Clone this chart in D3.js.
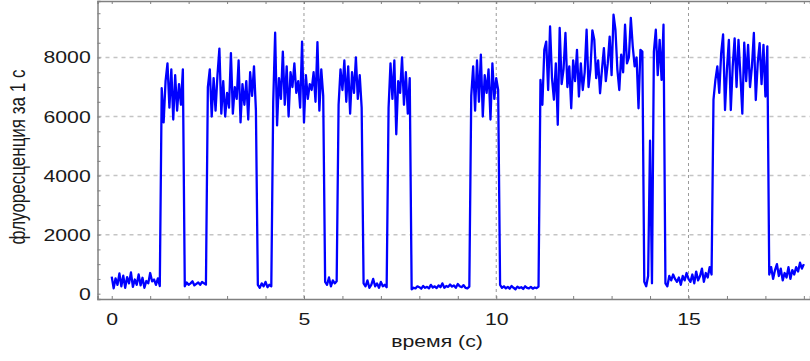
<!DOCTYPE html>
<html>
<head>
<meta charset="utf-8">
<script src="https://cdn.jsdelivr.net/npm/d3@7"></script>
<style>
  html, body { margin: 0; padding: 0; background: #fff; }
  svg { display: block; font-family: "Liberation Sans", Arial, sans-serif; }
</style>
</head>
<body>
<svg id="chart" width="810" height="361"></svg>
<script>
// Photon count trace of a single emitter, binned at 50 ms, expressed per second.
const startTime = 0;      // s
const binWidth = 0.05;    // s
const counts = [
  // 0.00 – 1.25 s
  580, 180, 520, 300, 690, 250, 610, 200, 560, 350, 720, 230, 480, 300, 650, 280, 540, 200, 430, 350,
  700, 420, 480, 300, 520, 260,
  // 1.30 – 1.85 s
  6960, 5800, 7200, 7800, 6300, 7600, 5900, 7400, 6200, 7100, 6400, 7600,
  // 1.90 – 2.45 s
  250, 380, 300, 350, 420, 280, 330, 380, 300, 400, 350, 310,
  // 2.50 – 3.75 s
  7000, 7600, 6000, 7300, 6200, 7400, 8300, 6100, 7200, 6000, 6800, 6300, 8150, 6100, 7000, 6600,
  7900, 5800, 7100, 6400, 7200, 5900, 7500, 6700, 7700, 6200,
  // 3.80 – 4.15 s
  300, 200, 350, 250, 400, 220, 300, 250,
  // 4.20 – 5.50 s
  6500, 8840, 5700, 7300, 6600, 8200, 6400, 7700, 6000, 7500, 7000, 7800, 6800, 7200, 6300, 8540,
  5800, 7400, 6600, 7100, 6900, 7500, 6500, 8520, 6200, 7600, 6700,
  // 5.55 – 5.85 s
  400, 300, 550, 250, 450, 350, 420,
  // 5.90 – 6.50 s
  6400, 7600, 6900, 7900, 6500, 7700, 6100, 7500, 6800, 8000, 6600, 7400, 6300,
  // 6.55 – 7.15 s
  350, 250, 450, 200, 300, 500, 250, 350, 200, 400, 250, 300, 220,
  // 7.20 – 7.75 s
  6300, 7800, 6600, 7900, 5400, 7200, 6800, 8000, 6400, 7500, 6100, 7300,
  // 7.80 – 9.30 s
  150, 200, 180, 250, 220, 170, 260, 200, 230, 180, 300, 210, 250, 190, 280, 220,
  350, 200, 260, 230, 310, 240, 280, 200, 330, 250, 220, 290, 200, 180, 240,
  // 9.35 – 10.05 s
  6700, 7700, 6200, 7900, 6500, 8100, 6000, 7400, 6800, 7600, 5900, 7800, 6600, 7300, 6900,
  // 10.10 – 11.10 s
  300, 200, 250, 180, 230, 170, 260, 200, 150, 240, 190, 220, 160, 250, 200, 180, 230, 170, 210, 190, 240,
  // 11.15 – 13.80 s
  7240, 6400, 8260, 8540, 6900, 9050, 7300, 6570, 7800, 5720, 9000, 7100, 7600, 8830, 7000, 7700,
  6280, 7900, 7200, 8260, 6680, 7800, 6900, 7500, 8940, 7000, 7600, 8920, 8600, 7300, 7900, 6790,
  7600, 8320, 7200, 7800, 8710, 7400, 9450, 8940, 7600, 6900, 8100, 7500, 9110, 7800, 8000, 9340,
  8380, 7700, 8000, 6280, 8260, 8200,
  // 13.85 – 14.05 s
  400, 250, 600, 5180, 350,
  // 14.10 – 14.35 s
  8200, 8940, 7400, 8600, 7240, 9110,
  // 14.40 – 15.60 s
  350, 250, 600, 450, 650, 500, 400, 550, 300, 600, 450, 700, 500, 400, 650, 350,
  750, 450, 600, 850, 400, 700, 550, 900, 650,
  // 15.65 – 17.05 s
  6570, 7240, 7700, 6800, 8150, 8780, 6220, 7600, 8600, 6220, 7700, 8650, 7000, 8600, 7400, 6100,
  8500, 7200, 8430, 7000, 7700, 8830, 6560, 7800, 8490, 7100, 8430, 6680, 8380,
  // 17.10 – 18.00 s
  650, 900, 500, 800, 1000, 600, 850, 450, 700, 550, 900, 500, 800, 650, 900, 750, 1050, 850, 1000
];

const xMajorTicks = [0, 5, 10, 15];
const xMinorTicks = [0, 1, 2, 3, 4, 5, 6, 7, 8, 9, 10, 11, 12, 13, 14, 15, 16, 17, 18];
const yMajorTicks = [0, 2000, 4000, 6000, 8000];
const yMinorTicks = [0, 500, 1000, 1500, 2000, 2500, 3000, 3500, 4000, 4500, 5000, 5500,
                     6000, 6500, 7000, 7500, 8000, 8500, 9000, 9500];
const xTitle = "время (с)";
const yTitle = "флуоресценция за 1 с";

const points = counts.map((v, i) => ({ t: startTime + i * binWidth, v }));

const svg = d3.select("#chart");
const frame = { left: 97.5, right: 810, top: 1, bottom: 299 };

const x = d3.scaleLinear().domain([-0.37, 18.16]).range([frame.left, frame.right]);
const y = d3.scaleLinear().domain([-180, 9914]).range([frame.bottom, frame.top]);

const axisColor = "#808080";
const textColor = "#1a1a1a";
const fontSize = "17px";
const textStretch = "scale(1.25,1)";   // wide lettering

// Grid lines
const grid = svg.append("g");
grid.selectAll("line.hgrid").data(yMajorTicks.filter(d => d > 0)).join("line")
  .attr("class", "hgrid")
  .attr("x1", frame.left).attr("x2", frame.right)
  .attr("y1", d => y(d)).attr("y2", d => y(d))
  .attr("stroke", "#c4c4c4").attr("stroke-width", 1.5)
  .attr("stroke-dasharray", "4,4");
grid.selectAll("line.vgrid").data(xMajorTicks.filter(d => d > 0)).join("line")
  .attr("class", "vgrid")
  .attr("x1", d => x(d)).attr("x2", d => x(d))
  .attr("y1", frame.top).attr("y2", frame.bottom)
  .attr("stroke", "#9a9a9a").attr("stroke-width", 1)
  .attr("stroke-dasharray", "3,3");

// Trace
svg.append("clipPath").attr("id", "plotClip").append("rect")
  .attr("x", frame.left).attr("y", frame.top)
  .attr("width", frame.right - frame.left).attr("height", frame.bottom - frame.top);

const line = d3.line().x(d => x(d.t)).y(d => y(d.v));
svg.append("path")
  .datum(points)
  .attr("clip-path", "url(#plotClip)")
  .attr("fill", "none")
  .attr("stroke", "#0000ff")
  .attr("stroke-width", 2.3)
  .attr("stroke-linejoin", "round")
  .attr("d", line);

// Axes (ticks pointing inward)
function styleAxis(g) {
  g.select(".domain").attr("stroke", axisColor).attr("stroke-width", 1.5);
  g.selectAll(".tick line").attr("stroke", axisColor).attr("stroke-width", 1);
  g.selectAll(".tick text").attr("fill", textColor).style("font-size", fontSize)
    .style("font-family", "'Liberation Sans', Arial, sans-serif")
    .attr("transform", textStretch);
}

const axisBottomG = svg.append("g").attr("transform", `translate(0,${frame.bottom})`)
  .call(d3.axisBottom(x).tickValues(xMinorTicks).tickSize(-3).tickPadding(14)
    .tickFormat(d => xMajorTicks.includes(d) ? d3.format("d")(d) : ""));
styleAxis(axisBottomG);

const axisTopG = svg.append("g").attr("transform", `translate(0,${frame.top})`)
  .call(d3.axisTop(x).tickValues(xMinorTicks).tickSize(-3).tickFormat(""));
styleAxis(axisTopG);

const axisLeftG = svg.append("g").attr("transform", `translate(${frame.left},0)`)
  .call(d3.axisLeft(y).tickValues(yMinorTicks).tickSize(-3).tickPadding(5.4)
    .tickFormat(d => yMajorTicks.includes(d) ? d3.format("d")(d) : ""));
styleAxis(axisLeftG);

// Axis titles
svg.append("text")
  .attr("transform", `translate(437,347) ${textStretch}`)
  .attr("text-anchor", "middle")
  .attr("fill", textColor)
  .style("font-size", fontSize)
  .text(xTitle);

svg.append("text")
  .attr("transform", `translate(25,157) ${textStretch} rotate(-90)`)
  .attr("text-anchor", "middle")
  .attr("fill", textColor)
  .style("font-size", fontSize)
  .text(yTitle);
</script>
</body>
</html>
